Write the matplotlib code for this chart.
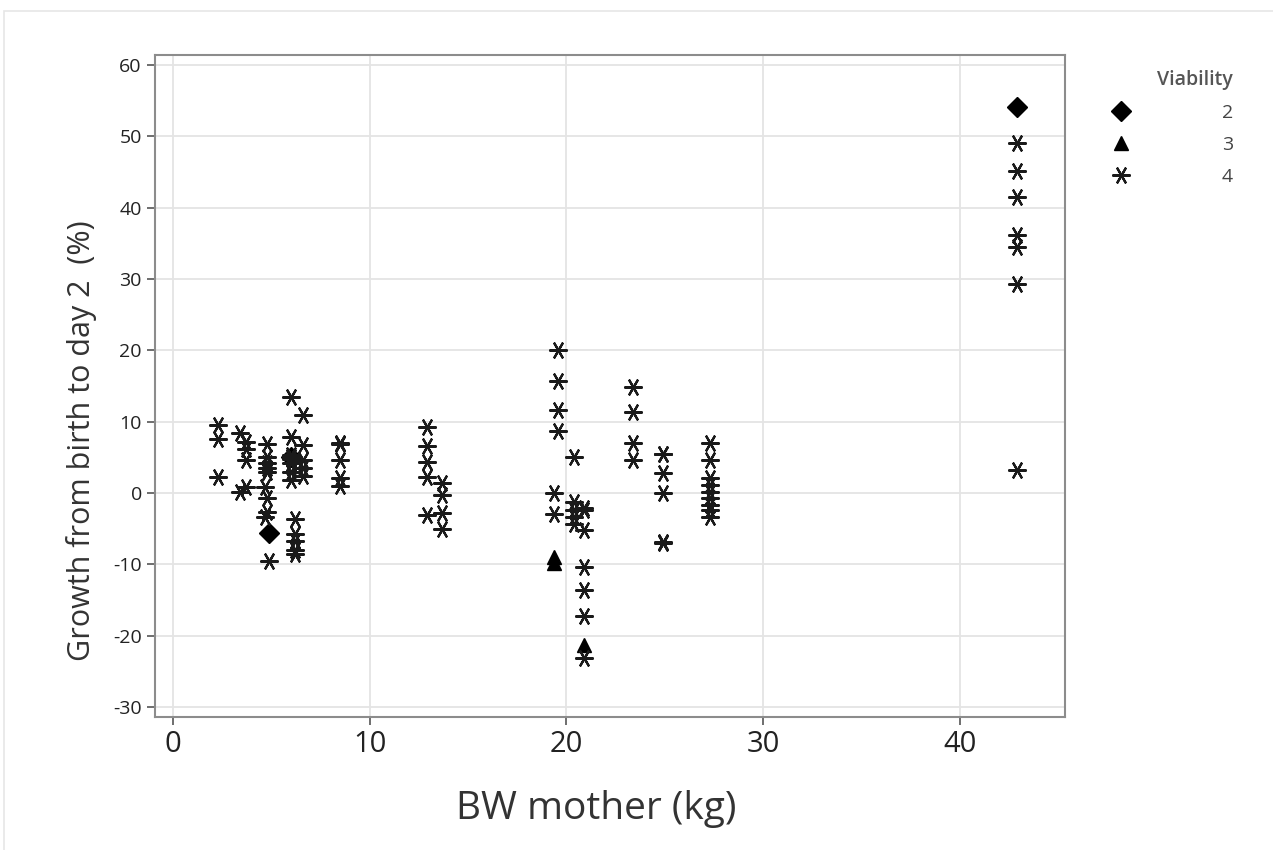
import numpy as np
import matplotlib.pyplot as plt
from matplotlib.patches import Rectangle

plt.rcParams['font.family'] = ['Open Sans', 'DejaVu Sans']
plt.rcParams['axes.unicode_minus'] = False

## the data (BW mother in kg, growth in %)
# viability 4 (asterisks)
v4_x = [2.3, 2.3, 2.3,
        3.4, 3.4,
        3.7, 3.7, 3.7, 3.7,
        4.8, 4.8, 4.8, 4.8, 4.8, 4.7, 4.8, 4.8, 4.7, 4.9,
        6.0, 6.0, 6.0, 6.0, 6.0, 6.0, 6.0, 6.0,
        6.6, 6.6, 6.6, 6.6, 6.6,
        6.2, 6.2, 6.2, 6.2, 6.2,
        8.5, 8.5, 8.5, 8.5, 8.5,
        12.9, 12.9, 12.9, 12.9, 12.9,
        13.7, 13.7, 13.7, 13.7,
        19.6, 19.6, 19.6, 19.6,
        19.4, 19.4,
        20.4,
        20.4, 20.4, 20.4, 20.4,
        20.9, 20.9, 20.9, 20.9, 20.9, 20.9, 20.9,
        23.4, 23.4, 23.4, 23.4,
        24.9, 24.9, 24.9, 24.9, 24.9, 24.9,
        27.3, 27.3, 27.3, 27.3, 27.3, 27.3, 27.3, 27.3, 27.3,
        42.9, 42.9, 42.9, 42.9, 42.9, 42.9, 42.9]
v4_y = [9.5, 7.5, 2.2,
        8.4, 0.2,
        7.2, 6.2, 4.6, 0.8,
        6.8, 5.0, 4.2, 3.5, 3.0, 0.8, -0.75, -2.6, -3.3, -9.6,
        13.5, 7.9, 5.3, 5.0, 4.8, 4.2, 3.0, 1.8,
        11.0, 6.7, 4.6, 3.5, 2.4,
        -3.6, -5.7, -6.8, -8.0, -8.5,
        7.0, 6.8, 4.6, 2.1, 1.0,
        9.3, 6.6, 4.4, 2.2, -3.1,
        1.4, -0.3, -2.8, -5.0,
        20.0, 15.7, 11.7, 8.7,
        0.0, -3.0,
        5.0,
        -1.2, -2.4, -3.3, -4.3,
        -2.1, -2.4, -5.2, -10.4, -13.6, -17.2, -23.2,
        14.8, 11.4, 7.0, 4.6,
        5.5, 5.4, 2.8, 0.0, -6.9, -7.0,
        7.0, 4.6, 2.1, 1.1, 0.2, -0.7, -1.7, -2.4, -3.3,
        49.0, 45.2, 41.5, 36.2, 34.5, 29.3, 3.2]

# viability 2 (diamonds)
v2_x = [4.9, 6.0, 42.9]
v2_y = [-5.6, 5.0, 54.1]

# viability 3 (triangles)
v3_x = [19.4, 19.4, 20.9]
v3_y = [-9.0, -9.8, -21.3]

fig = plt.figure(figsize=(12.73, 8.5), dpi=100)
ax = fig.add_axes([0.1218, 0.1565, 0.7148, 0.7788])

# faint frame round the picture
fig.patches.append(Rectangle((0.003, -0.01), 1.2, 0.997, transform=fig.transFigure,
                             fill=False, edgecolor='#e6e6e6', linewidth=1.2))

star = (6, 2, 30)
ax.plot(v2_x, v2_y, linestyle='none', marker='D', ms=10, color='black', label='2', zorder=3)
ax.plot(v3_x, v3_y, linestyle='none', marker='^', ms=10, color='black', label='3', zorder=3)
ax.plot(v4_x, v4_y, linestyle='none', marker=star, ms=13, mew=1.6,
        color='#1a1a1a', label='4', zorder=3)

# axes and labels
ax.set_xlim(-0.9, 45.35)
ax.set_ylim(-31.4, 61.4)
ax.set_xticks([0, 10, 20, 30, 40])
ax.set_yticks(np.arange(-30, 61, 10))
ax.tick_params(axis='x', labelsize=21, colors='#555555', labelcolor='#222222', length=6, width=1.2)
ax.tick_params(axis='y', labelsize=14, colors='#555555', labelcolor='#222222', length=6, width=1.2)
ax.grid(True, color='#e4e4e4', linewidth=1.3)
ax.set_axisbelow(True)
for s in ax.spines.values():
    s.set_color('#8c8c8c')
    s.set_linewidth(1.5)

ax.set_xlabel('BW mother (kg)', fontsize=28, color='#333333')
ax.set_ylabel('Growth from birth to day 2  (%)', fontsize=22, color='#333333')
ax.xaxis.set_label_coords(0.485, -0.11)
ax.yaxis.set_label_coords(-0.064, 0.418)

## add a legend
leg = fig.legend(loc='upper right', bbox_to_anchor=(1233 / 1273, 1 - 70 / 850), frameon=False,
                 title='Viability', title_fontsize=14, fontsize=14,
                 handletextpad=4.2, labelspacing=0.72, alignment='right',
                 borderpad=0, borderaxespad=0)
leg.get_title().set_color('#555555')
leg.get_title().set_fontweight('semibold')
for t in leg.get_texts():
    t.set_color('#444444')

plt.savefig('out.png', dpi=100)
